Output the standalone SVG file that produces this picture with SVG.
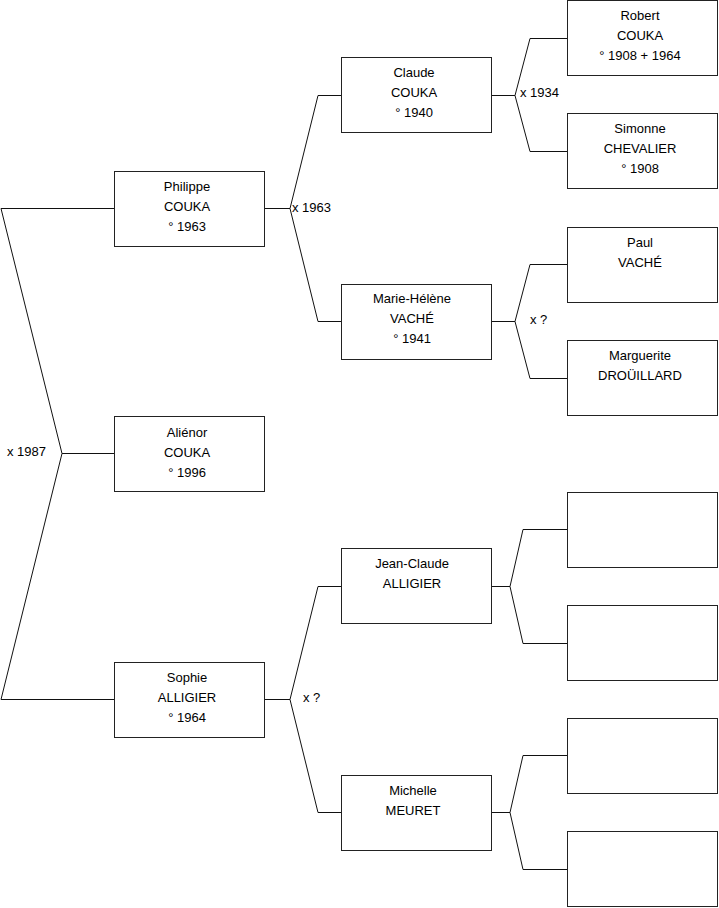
<svg xmlns="http://www.w3.org/2000/svg" width="719" height="908" viewBox="0 0 719 908">
<style>
.box{fill:#fff;stroke:#222;stroke-width:1}
.ln{fill:none;stroke:#111;stroke-width:1}
text{font-family:"Liberation Sans",Arial,sans-serif;font-size:13px;fill:#000}
.c{text-anchor:middle}
</style>
<rect width="719" height="908" fill="#fff"/>
<g id="connectors">
<polyline class="ln" points="114,208.5 1,208.5 62,453.5 1,699.5 114,699.5"/>
<line class="ln" x1="62" y1="453.5" x2="114" y2="453.5"/>
<text x="7" y="456">x 1987</text>
<polyline class="ln" points="341,95.5 318,95.5 290,208.5 318,321.5 341,321.5"/>
<line class="ln" x1="265" y1="208.5" x2="290" y2="208.5"/>
<text x="292" y="212">x 1963</text>
<polyline class="ln" points="341,586.5 318,586.5 290,699.5 318,812.5 341,812.5"/>
<line class="ln" x1="265" y1="699.5" x2="290" y2="699.5"/>
<text x="303" y="702">x ?</text>
<polyline class="ln" points="567,38.5 530,38.5 515,95.5 530,151.5 567,151.5"/>
<line class="ln" x1="492" y1="95.5" x2="515" y2="95.5"/>
<text x="520" y="97">x 1934</text>
<polyline class="ln" points="567,264.5 530,264.5 515,321.5 530,378.5 567,378.5"/>
<line class="ln" x1="492" y1="321.5" x2="515" y2="321.5"/>
<text x="530" y="324">x ?</text>
<polyline class="ln" points="567,529.5 523,529.5 510,586.5 523,643.5 567,643.5"/>
<line class="ln" x1="492" y1="586.5" x2="510" y2="586.5"/>
<polyline class="ln" points="567,755.5 523,755.5 510,812.5 523,869.5 567,869.5"/>
<line class="ln" x1="492" y1="812.5" x2="510" y2="812.5"/>
</g>
<g id="philippe"><rect class="box" x="114.5" y="171.5" width="150" height="75"/>
<text class="c" x="187" y="191">Philippe</text><text class="c" x="187" y="211">COUKA</text><text class="c" x="187" y="231">° 1963</text></g>
<g id="alienor"><rect class="box" x="114.5" y="416.5" width="150" height="75"/>
<text class="c" x="187" y="437">Aliénor</text><text class="c" x="187" y="457">COUKA</text><text class="c" x="187" y="477">° 1996</text></g>
<g id="sophie"><rect class="box" x="114.5" y="662.5" width="150" height="75"/>
<text class="c" x="187" y="682">Sophie</text><text class="c" x="187" y="702">ALLIGIER</text><text class="c" x="187" y="722">° 1964</text></g>
<g id="claude"><rect class="box" x="341.5" y="57.5" width="150" height="75"/>
<text class="c" x="414" y="77">Claude</text><text class="c" x="414" y="97">COUKA</text><text class="c" x="414" y="117">° 1940</text></g>
<g id="mariehelene"><rect class="box" x="341.5" y="284.5" width="150" height="75"/>
<text class="c" x="412" y="303">Marie-Hélène</text><text class="c" x="412" y="323">VACHÉ</text><text class="c" x="412" y="343">° 1941</text></g>
<g id="jeanclaude"><rect class="box" x="341.5" y="548.5" width="150" height="75"/>
<text class="c" x="412" y="568">Jean-Claude</text><text class="c" x="412" y="588">ALLIGIER</text></g>
<g id="michelle"><rect class="box" x="341.5" y="775.5" width="150" height="75"/>
<text class="c" x="413" y="795">Michelle</text><text class="c" x="413" y="815">MEURET</text></g>
<g id="robert"><rect class="box" x="567.5" y="0.5" width="150" height="75"/>
<text class="c" x="640" y="20">Robert</text><text class="c" x="640" y="40">COUKA</text><text class="c" x="640" y="60">° 1908 + 1964</text></g>
<g id="simonne"><rect class="box" x="567.5" y="113.5" width="150" height="75"/>
<text class="c" x="640" y="133">Simonne</text><text class="c" x="640" y="153">CHEVALIER</text><text class="c" x="640" y="173">° 1908</text></g>
<g id="paul"><rect class="box" x="567.5" y="227.5" width="150" height="75"/>
<text class="c" x="640" y="247">Paul</text><text class="c" x="640" y="267">VACHÉ</text></g>
<g id="marguerite"><rect class="box" x="567.5" y="340.5" width="150" height="75"/>
<text class="c" x="640" y="360">Marguerite</text><text class="c" x="640" y="380">DROÜILLARD</text></g>
<g id="empty1"><rect class="box" x="567.5" y="492.5" width="150" height="75"/></g>
<g id="empty2"><rect class="box" x="567.5" y="605.5" width="150" height="75"/></g>
<g id="empty3"><rect class="box" x="567.5" y="718.5" width="150" height="75"/></g>
<g id="empty4"><rect class="box" x="567.5" y="831.5" width="150" height="75"/></g>
</svg>
